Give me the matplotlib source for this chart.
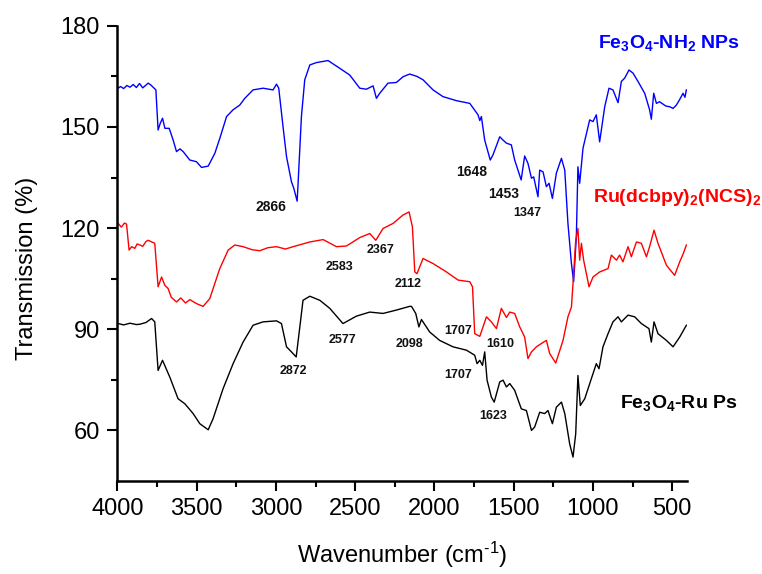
import matplotlib
matplotlib.use("Agg")
import matplotlib.pyplot as plt

plt.rcParams['font.family'] = ['Liberation Sans', 'DejaVu Sans']
plt.rcParams['mathtext.fontset'] = 'custom'
plt.rcParams['mathtext.rm'] = 'Liberation Sans'
plt.rcParams['mathtext.it'] = 'Liberation Sans:italic'
plt.rcParams['mathtext.bf'] = 'Liberation Sans:bold'
plt.rcParams['mathtext.default'] = 'rm'

# ---------------- data ----------------
nh2_wn = [3995, 3980, 3960, 3940, 3920, 3900, 3880, 3860, 3840, 3820, 3806, 3790, 3757, 3743, 3730, 3715,
          3700, 3673, 3648, 3627, 3605, 3585, 3543, 3501, 3469, 3427, 3385, 3354, 3311, 3270,
          3228, 3196, 3144, 3081, 3018, 2996, 2982, 2955, 2933, 2902, 2887, 2866, 2860, 2839,
          2818, 2786, 2744, 2671, 2597, 2534, 2471, 2429, 2387, 2366, 2345, 2293, 2240, 2198,
          2156, 2110, 2072, 2009, 1946, 1861, 1777, 1725, 1714, 1704, 1683, 1648, 1631, 1588,
          1567, 1546, 1515, 1494, 1453, 1431, 1410, 1388, 1374, 1347, 1336, 1315, 1294, 1277,
          1256, 1231, 1199, 1178, 1158, 1136, 1122, 1105, 1095, 1084, 1063, 1021, 1000, 979,
          958, 926, 899, 874, 842, 821, 800, 773, 748, 716, 674, 643, 632, 617, 600, 580, 559,
          540, 516, 495, 474, 455, 432, 420, 411]
nh2_T = [161.5, 162.0, 161.4, 162.3, 161.8, 162.6, 161.7, 162.9, 161.6, 162.4, 163.0, 162.5, 161.0, 149.1, 151.0, 152.6,
         149.6, 149.6, 146.1, 142.7, 143.5, 142.7, 140.2, 139.7, 138.0, 138.4, 142.2, 146.6, 153.1, 155.1,
         156.5, 158.5, 161.0, 161.5, 161.0, 162.7, 161.5, 150.1, 141.2, 133.8, 131.8, 128.0, 133.3, 153.1,
         164.0, 168.4, 169.1, 169.7, 167.4, 165.4, 161.5, 161.2, 162.2, 158.5, 160.0, 163.0, 163.2, 164.9,
         165.7, 165.0, 164.0, 161.0, 159.0, 157.8, 157.0, 153.6, 151.9, 153.1, 146.1, 140.2, 141.7, 147.1,
         146.1, 145.2, 144.7, 140.2, 134.3, 141.4, 139.2, 134.8, 135.2, 129.3, 137.2, 136.7, 132.3, 133.3,
         128.8, 136.3, 140.7, 137.2, 121.4, 109.5, 104.1, 117.4, 138.2, 133.3, 143.7, 152.1, 151.6, 153.6,
         145.6, 156.0, 161.5, 161.0, 157.2, 163.5, 164.5, 166.9, 166.0, 163.5, 160.0, 155.1, 152.3, 160.0, 157.0, 157.5, 156.8,
         156.2, 156.0, 155.5, 156.5, 158.0, 160.0, 158.8, 161.0]

ru_wn = [3995, 3975, 3955, 3942, 3926, 3910, 3890, 3875, 3858, 3840, 3820, 3806, 3764, 3743, 3721, 3700,
         3680, 3660, 3627, 3600, 3570, 3543, 3500, 3459, 3417, 3354, 3301, 3259, 3207, 3150,
         3102, 3050, 2996, 2940, 2891, 2786, 2702, 2618, 2555, 2471, 2408, 2370, 2324, 2261, 2198,
         2160, 2139, 2124, 2110, 2072, 2009, 1924, 1851, 1777, 1760, 1746, 1714, 1672, 1641,
         1609, 1578, 1546, 1525, 1494, 1462, 1431, 1410, 1388, 1357, 1325, 1294, 1273, 1235,
         1189, 1158, 1136, 1126, 1109, 1095, 1084, 1073, 1059, 1025, 1000, 958, 905, 884, 852,
         832, 811, 779, 758, 726, 695, 663, 643, 615, 590, 537, 485, 453, 430, 411]
ru_T = [121.4, 120.3, 121.5, 121.2, 113.5, 114.5, 114.0, 115.3, 115.0, 114.6, 116.0, 116.4, 115.5, 102.6, 105.5, 103.0,
        102.1, 99.5, 98.1, 99.3, 97.8, 98.8, 97.6, 96.8, 99.1, 108.0, 113.5, 115.0, 114.5, 113.6,
        113.3, 114.2, 114.5, 113.8, 114.5, 115.9, 116.6, 114.5, 114.7, 117.2, 118.4, 116.4, 119.9, 121.4, 123.9,
        124.8, 120.4, 107.0, 106.5, 111.0, 109.5, 107.0, 104.6, 104.1, 102.6, 88.7, 87.9, 93.7, 92.2,
        90.2, 96.2, 93.5, 95.1, 94.7, 90.7, 87.7, 81.3, 83.3, 84.8, 85.8, 86.7, 82.8, 80.0,
        86.7, 93.7, 96.6, 103.6, 116.4, 119.9, 110.5, 115.5, 110.5, 102.6, 105.5, 107.0, 108.0, 112.0, 110.5,
        112.0, 110.0, 114.5, 111.5, 115.9, 115.5, 111.5, 114.5, 119.4, 115.5, 109.0, 106.0, 110.0, 112.5, 115.0]

fe_wn = [3995, 3960, 3920, 3880, 3858, 3820, 3784, 3764, 3743, 3715, 3669, 3617, 3574, 3522, 3480,
         3427, 3396, 3333, 3270, 3207, 3144, 3081, 2996, 2965, 2933, 2902, 2872, 2849, 2829,
         2786, 2723, 2660, 2577, 2492, 2408, 2324, 2240, 2156, 2145, 2118, 2098, 2082, 2030,
         1967, 1883, 1798, 1746, 1731, 1714, 1697, 1683, 1668, 1641, 1623, 1588, 1567, 1546,
         1525, 1494, 1452, 1420, 1388, 1368, 1336, 1305, 1284, 1256, 1231, 1199, 1178, 1147,
         1126, 1109, 1095, 1080, 1052, 1010, 979, 962, 937, 905, 874, 842, 821, 779, 737,
         695, 647, 632, 615, 590, 537, 495, 453, 411]
fe_T = [91.7, 91.3, 91.8, 91.4, 91.5, 92.0, 93.2, 92.2, 77.8, 80.8, 75.8, 69.4, 67.9, 65.0, 62.0,
        60.2, 63.5, 72.4, 79.8, 86.2, 91.2, 92.2, 92.5, 91.7, 84.8, 83.3, 81.8, 90.7, 98.6,
        99.8, 98.6, 96.2, 91.7, 93.9, 95.1, 94.7, 95.7, 96.8, 96.8, 94.7, 90.7, 92.9, 89.2,
        86.7, 84.8, 83.8, 82.3, 79.8, 80.8, 79.3, 83.3, 74.9, 69.9, 68.4, 74.4, 74.9, 72.9,
        73.9, 71.9, 66.4, 65.9, 60.0, 61.0, 65.4, 65.0, 65.9, 62.0, 66.9, 68.4, 65.0, 56.0,
        52.1, 59.0, 76.3, 67.4, 69.4, 75.4, 79.8, 78.3, 84.8, 88.7, 92.2, 93.7, 92.2, 94.2, 93.7,
        91.7, 90.2, 86.2, 92.2, 88.7, 86.7, 84.8, 87.7, 91.2]

series_names = [r'Fe$_\mathbf{3}$O$_\mathbf{4}$-NH$_\mathbf{2}$ NPs',
                r'Ru(dcbpy)$_\mathbf{2}$(NCS)$_\mathbf{2}$',
                r'Fe$_\mathbf{3}$O$_\mathbf{4}$-Ru Ps']
series_colors = ['#0000ff', '#ff0000', '#000000']

# peak annotations
peak_labels = ['2866', '2583', '2367', '2112', '2872', '2577', '2098', '1707', '1610',
               '1707', '1623', '1648', '1453', '1347']
peak_x = [3032, 2597, 2339, 2168, 2887, 2578, 2156, 1853, 1588, 1853, 1632, 1765, 1563, 1412]
peak_y = [126.2, 108.4, 113.5, 103.4, 77.5, 86.7, 85.6, 89.4, 85.6, 76.3, 64.2, 136.6, 130.1, 124.5]
peak_size = [10, 9, 9, 9, 9, 9, 9, 9, 9, 9, 9, 10, 10, 9]

# ---------------- figure ----------------
fig = plt.figure(figsize=(7.62, 5.74), dpi=100)
ax = fig.add_axes([0.154, 0.162, 0.748, 0.793])

for wn, T, c in zip([nh2_wn, ru_wn, fe_wn], [nh2_T, ru_T, fe_T], series_colors):
    ax.plot(wn, T, color=c, lw=1.0)

ax.set_xlim(4000, 405)
ax.set_ylim(45, 180)
ax.set_xticks([4000, 3500, 3000, 2500, 2000, 1500, 1000, 500])
ax.set_xticks([3750, 3250, 2750, 2250, 1750, 1250, 750], minor=True)
ax.set_yticks([60, 90, 120, 150, 180])
ax.set_yticks([75, 105, 135, 165], minor=True)

for s in ['top', 'right']:
    ax.spines[s].set_visible(False)
for s in ['left', 'bottom']:
    ax.spines[s].set_linewidth(1.8)
ax.tick_params(which='major', direction='out', length=7.5, width=1.5, labelsize=17, pad=5)
ax.tick_params(which='minor', direction='out', length=4, width=1.5)

ax.set_xlabel(r'Wavenumber (cm$^{\text{-1}}$)', fontsize=17)
ax.set_ylabel('Transmission (%)', fontsize=17)
ax.xaxis.set_label_coords(0.5, -0.163)
ax.yaxis.set_label_coords(-0.159, 0.468)
ax.xaxis.label.set_va('center')
ax.yaxis.label.set_va('center')

ax.text(970, 173.5, series_names[0], color=series_colors[0], fontsize=14,
        fontweight='bold', ha='left', va='baseline')
ax.text(1002, 127.7, series_names[1], color=series_colors[1], fontsize=14,
        fontweight='bold', ha='left', va='baseline', clip_on=False)
ax.text(832, 66.8, series_names[2], color=series_colors[2], fontsize=14,
        fontweight='bold', ha='left', va='baseline')

for lab, px, py, fs in zip(peak_labels, peak_x, peak_y, peak_size):
    ax.text(px, py, lab, fontsize=fs, fontweight='bold', ha='center', va='center', color='#111111')

fig.savefig('out.png', dpi=100)
